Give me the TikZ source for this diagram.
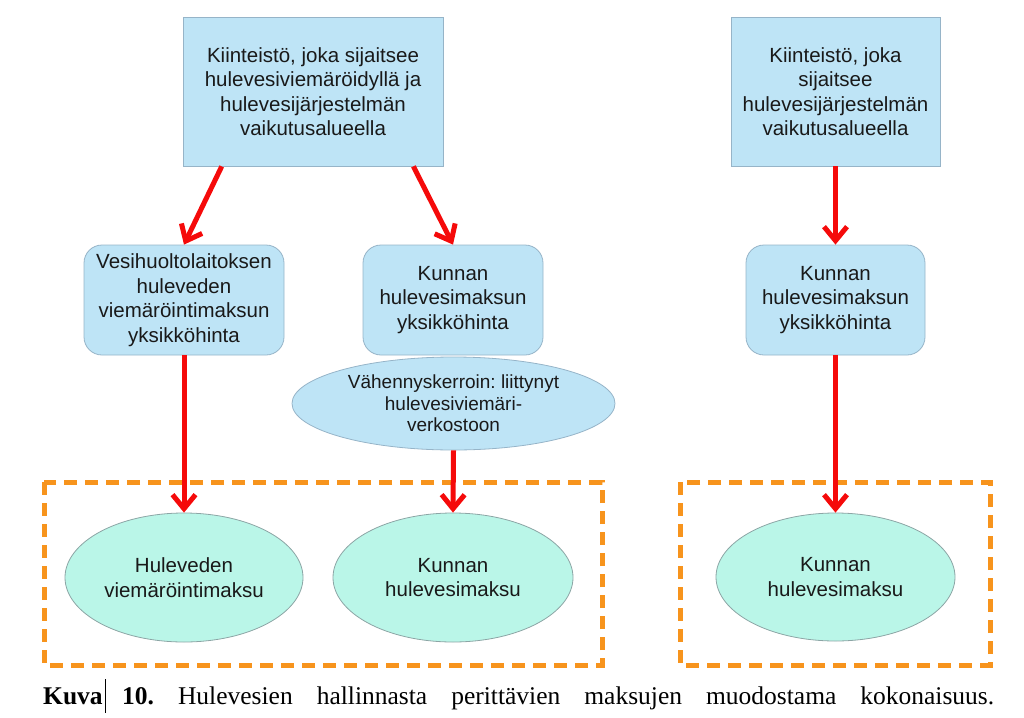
\documentclass[tikz,border=0pt]{standalone}
\usepackage{fontspec}
\setmainfont{Liberation Sans}
\newfontfamily\capfont{Liberation Serif}
\usetikzlibrary{shapes.geometric,arrows.meta,calc}
\definecolor{boxfill}{RGB}{190,228,246}
\definecolor{boxline}{RGB}{150,180,200}
\definecolor{mintfill}{RGB}{186,246,232}
\definecolor{mintline}{RGB}{140,165,165}
\definecolor{arrred}{RGB}{245,10,10}
\definecolor{dashorange}{RGB}{247,148,29}
\definecolor{txt}{RGB}{25,25,25}
\tikzset{
  bluebox/.style={draw=boxline, line width=0.8pt, fill=boxfill, inner sep=0pt, align=center, text=txt,
    font=\fontsize{20.5}{24.5}\selectfont},
  roundbox/.style={bluebox, rounded corners=18pt},
  blueell/.style={ellipse, draw=boxline, line width=0.8pt, fill=boxfill, inner sep=0pt, align=center, text=txt,
    font=\fontsize{19}{21.5}\selectfont},
  mintell/.style={ellipse, draw=mintline, line width=0.8pt, fill=mintfill, inner sep=0pt, align=center, text=txt,
    font=\fontsize{20.5}{24.5}\selectfont},
  redarrow/.style={draw=arrred, line width=5pt, -{Straight Barb[length=14pt,width=23pt]}},
  orangedash/.style={draw=dashorange, line width=5pt, dash pattern=on 13pt off 8pt},
  captext/.style={anchor=base west, inner sep=0pt, font=\capfont\fontsize{25.5}{28}\selectfont},
}
\begin{document}
\frenchspacing
\begin{tikzpicture}[x=1pt,y=-1pt]
\useasboundingbox (0,0) rectangle (1024,717);
% dashed groups
\draw[orangedash] (44,482) rectangle (602,665);
\draw[orangedash] (680,482) rectangle (990,665);
% top boxes
\node[bluebox, minimum width=260pt, minimum height=149pt] (topL) at (313,91.5)
  {Kiinteistö, joka sijaitsee\\hulevesiviemäröidyllä ja\\hulevesijärjestelmän\\vaikutusalueella};
\node[bluebox, minimum width=209pt, minimum height=149pt] (topR) at (835.5,91.5)
  {Kiinteistö, joka\\sijaitsee\\hulevesijärjestelmän\\vaikutusalueella};
% middle boxes
\node[roundbox, minimum width=200pt, minimum height=110pt] (midL) at (184,300)
  {Vesihuoltolaitoksen\\huleveden\\viemäröintimaksun\\yksikköhinta};
\node[roundbox, minimum width=180pt, minimum height=110pt] (midM) at (453,300)
  {Kunnan\\hulevesimaksun\\yksikköhinta};
\node[roundbox, minimum width=179pt, minimum height=110pt] (midR) at (835.5,300)
  {Kunnan\\hulevesimaksun\\yksikköhinta};
% reduction ellipse
\node[blueell, minimum width=323pt, minimum height=93pt] (red) at (453.5,403.5)
  {Vähennyskerroin: liittynyt\\hulevesiviemäri-\\verkostoon};
% bottom ellipses
\node[mintell, minimum width=238pt, minimum height=129pt] (botL) at (184,577.5)
  {Huleveden\\viemäröintimaksu};
\node[mintell, minimum width=240pt, minimum height=129pt] (botM) at (453,577.5)
  {Kunnan\\hulevesimaksu};
\node[mintell, minimum width=239pt, minimum height=128pt] (botR) at (835.5,577)
  {Kunnan\\hulevesimaksu};
% arrows
\draw[redarrow] ($(topL.south west)!0.15!(topL.south east)$) -- (midL.north);
\draw[redarrow] ($(topL.south west)!0.885!(topL.south east)$) -- (midM.north);
\draw[redarrow] (topR.south) -- (midR.north);
\draw[redarrow] (midL.south) -- (botL.north);
\draw[redarrow] (red.south) -- (botM.north);
\draw[redarrow] (midR.south) -- (botR.north);
% caption
\node[captext] (capK) at (43,704) {\textbf{Kuva}};
\node[captext] (capT) at (122,704)
  {\hbox to 872pt{\textbf{10.} Hulevesien hallinnasta perittävien maksujen muodostama kokonaisuus.}};
\draw[line width=1pt, black] (105,679) -- (105,713);
\end{tikzpicture}
\end{document}
